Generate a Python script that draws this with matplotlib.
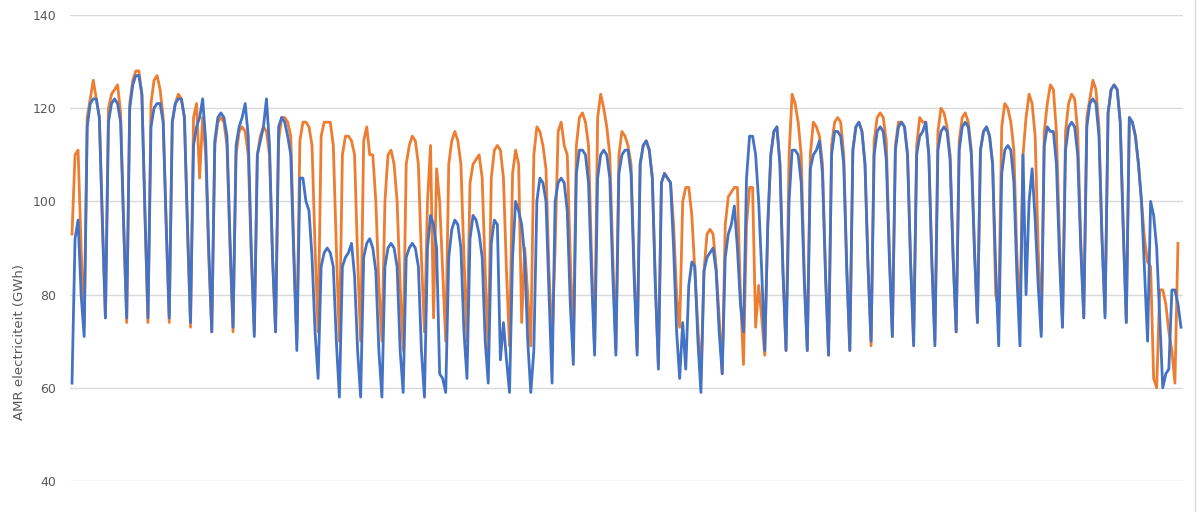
import numpy as np
import matplotlib
matplotlib.use("Agg")
from matplotlib import pyplot as plt
from matplotlib.lines import Line2D

# daily AMR electricity (GWh), one row per week (Mon..Sun), first row starts on a Wednesday
blue_2020 = [
    61, 92, 96, 80, 71,
    116, 121, 122, 122, 118, 96, 75,
    117, 121, 122, 121, 117, 95, 75,
    120, 125, 127, 127, 123, 98, 75,
    116, 120, 121, 121, 117, 95, 75,
    117, 121, 122, 122, 118, 95, 74,
    112, 116, 118, 122, 113, 90, 72,
    113, 118, 119, 118, 114, 92, 73,
    112, 116, 118, 121, 114, 90, 71,
    110, 113, 116, 122, 112, 88, 72,
    116, 118, 117, 114, 110, 88, 68,
    105, 105, 100, 98, 88, 72, 62,
    86, 89, 90, 89, 86, 70, 58,
    86, 88, 89, 91, 84, 68, 58,
    88, 91, 92, 90, 85, 68, 58,
    86, 90, 91, 90, 86, 68, 59,
    88, 90, 91, 90, 86, 68, 58,
    90, 97, 95, 90, 63, 62, 59,
    88, 94, 96, 95, 90, 72, 62,
    92, 97, 96, 93, 88, 70, 61,
    91, 96, 95, 66, 74, 66, 59,
    88, 100, 98, 95, 88, 70, 59,
    68, 100, 105, 104, 100, 80, 61,
    100, 104, 105, 104, 98, 78, 65,
    106, 111, 111, 110, 104, 84, 67,
    105, 110, 111, 110, 105, 84, 67,
    106, 110, 111, 111, 106, 84, 67,
    108, 112, 113, 111, 105, 82, 64,
    104, 106, 105, 104, 90, 72, 62,
    74, 64, 82, 87, 86, 70, 59,
    85, 88, 89, 90, 85, 72, 63,
    88, 93, 95, 99, 90, 78, 72,
    105, 114, 114, 110, 100, 85, 68,
    95, 110, 115, 116, 108, 85, 68,
    100, 111, 111, 110, 104, 83, 68,
    107, 110, 111, 113, 106, 84, 67,
    110, 115, 115, 114, 108, 85, 68,
    111, 116, 117, 115, 108, 86, 70,
    110, 115, 116, 115, 109, 88, 71,
    111, 116, 117, 116, 110, 87, 69,
    110, 114, 115, 117, 110, 87, 69,
    111, 115, 116, 115, 109, 88, 72,
    111, 116, 117, 116, 110, 90, 74,
    111, 115, 116, 114, 108, 86, 69,
    106, 111, 112, 111, 104, 84, 69,
    110, 80, 100, 107, 96, 82, 71,
    112, 116, 115, 115, 108, 88, 73,
    111, 116, 117, 116, 110, 90, 75,
    116, 121, 122, 121, 114, 92, 75,
    119, 124, 125, 124, 117, 94, 74,
    118, 117, 114, 108, 100, 85, 70,
    100, 97, 90, 75, 60, 63, 64,
    81, 81, 78, 73,
]

orange_2019 = [
    93, 110, 111, 90, 73,
    118, 122, 126, 122, 118, 95, 75,
    120, 123, 124, 125, 119, 95, 74,
    121, 126, 128, 128, 123, 97, 74,
    121, 126, 127, 124, 118, 95, 74,
    117, 121, 123, 122, 118, 94, 73,
    118, 121, 105, 118, 110, 88, 72,
    112, 117, 118, 117, 112, 90, 72,
    110, 115, 116, 115, 110, 88, 72,
    110, 114, 116, 115, 110, 88, 72,
    113, 118, 118, 117, 114, 90, 70,
    113, 117, 117, 116, 112, 90, 72,
    114, 117, 117, 117, 112, 90, 70,
    110, 114, 114, 113, 110, 88, 70,
    113, 116, 110, 110, 100, 82, 70,
    100, 110, 111, 108, 100, 82, 68,
    108, 112, 114, 113, 108, 88, 72,
    100, 112, 75, 107, 100, 85, 70,
    108, 113, 115, 113, 108, 88, 70,
    104, 108, 109, 110, 105, 85, 68,
    105, 111, 112, 111, 105, 85, 69,
    106, 111, 108, 74, 90, 80, 69,
    110, 116, 115, 112, 107, 85, 70,
    90, 115, 117, 112, 110, 88, 68,
    112, 118, 119, 117, 112, 88, 68,
    118, 123, 120, 116, 110, 88, 68,
    110, 115, 114, 112, 108, 86, 68,
    108, 112, 113, 111, 105, 82, 65,
    104, 106, 105, 104, 95, 80, 73,
    100, 103, 103, 97, 85, 73, 62,
    85, 93, 94, 93, 86, 75, 63,
    95, 101, 102, 103, 103, 80, 65,
    95, 103, 103, 73, 82, 75, 67,
    95, 110, 115, 116, 108, 85, 68,
    110, 123, 121, 117, 110, 85, 68,
    110, 117, 116, 114, 108, 85, 67,
    112, 117, 118, 117, 110, 86, 68,
    111, 116, 117, 115, 108, 86, 69,
    113, 118, 119, 118, 113, 90, 71,
    112, 117, 117, 116, 110, 87, 70,
    112, 118, 117, 117, 110, 87, 70,
    115, 120, 119, 116, 110, 88, 72,
    113, 118, 119, 117, 111, 90, 74,
    111, 115, 116, 114, 108, 80, 77,
    116, 121, 120, 117, 111, 88, 76,
    110, 118, 123, 121, 114, 90, 72,
    115, 121, 125, 124, 115, 92, 73,
    115, 121, 123, 122, 115, 92, 75,
    118, 122, 126, 124, 116, 92, 76,
    119, 124, 125, 124, 117, 94, 74,
    118, 117, 114, 108, 100, 92, 87,
    86, 62, 60, 81, 81, 78, 72,
    68, 61, 91,
]

y_ticks = [40, 60, 80, 100, 120, 140]
y_label = "AMR electriciteit (GWh)"

BLUE = "#4472C4"
ORANGE = "#ED7D31"
GRID = "#D9D9D9"
TEXT = "#595959"

W, H = 1203, 512
fig = plt.figure(figsize=(W / 100, H / 100), dpi=100)
ax = fig.add_axes([70 / W, 1 - 481 / H, (1183 - 70) / W, (481 - 15) / H])

ax.plot(np.arange(len(orange_2019)), orange_2019, color=ORANGE, lw=2.0, solid_joinstyle="round")
ax.plot(np.arange(len(blue_2020)), blue_2020, color=BLUE, lw=2.0, solid_joinstyle="round")

ax.set_xlim(-0.66, 365.66)
ax.set_ylim(40, 140)
ax.set_yticks(y_ticks)
ax.set_xticks([])
ax.yaxis.grid(True, color=GRID, lw=1)
ax.set_axisbelow(True)
for s in ax.spines.values():
    s.set_visible(False)
ax.tick_params(axis="y", length=0, pad=10, labelsize=9, labelcolor=TEXT)

fig.text(20 / W, 1 - 342 / H, y_label, rotation=90, ha="center", va="center",
         fontsize=9.5, color=TEXT)

# chart border on the right
fig.add_artist(Line2D([1195 / W, 1195 / W], [0, 1], color=GRID, lw=1))

fig.savefig("out.png", dpi=100, facecolor="white")
